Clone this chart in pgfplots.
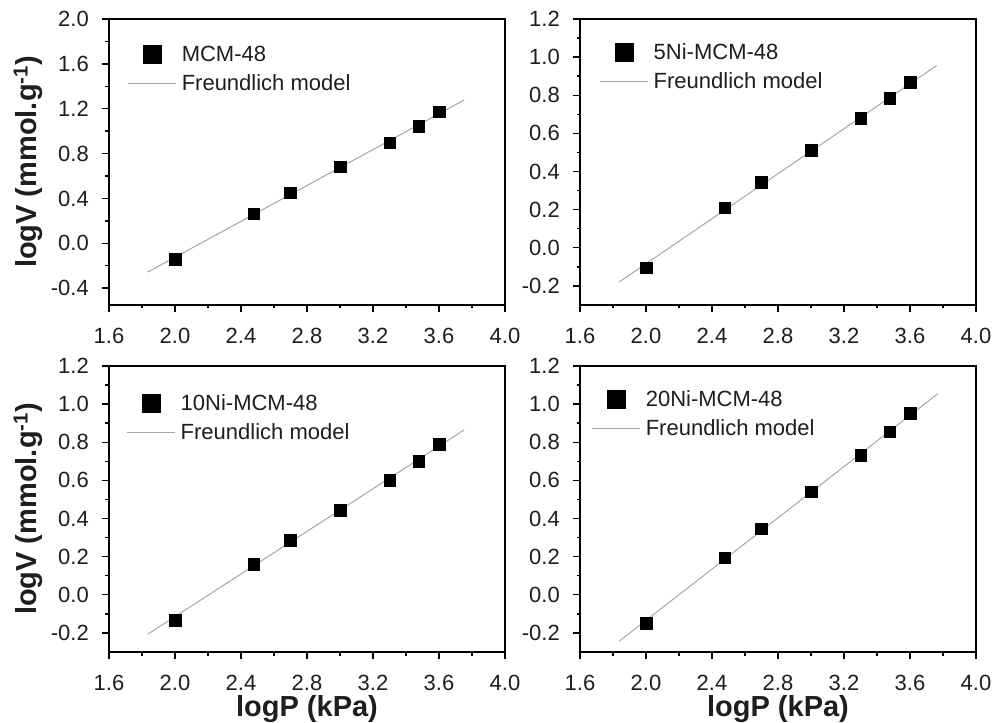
\documentclass[border=0pt]{standalone}
\usepackage{fontspec}
\setmainfont{Liberation Sans}
\usepackage{pgfplots}
\pgfplotsset{compat=1.18}
\newcommand{\ticksize}{\fontsize{22bp}{26bp}\selectfont}
\newcommand{\legsize}{\fontsize{22bp}{24bp}\selectfont}
\newcommand{\labsize}{\fontsize{29bp}{32bp}\selectfont\bfseries}
\definecolor{textgray}{HTML}{1E1E1E}
\pgfplotsset{
  panel/.style={
    scale only axis, width=396bp, height=286bp,
    axis line style={line width=2.4bp},
    xmin=1.6, xmax=4.0,
    xtick={1.6,2.0,2.4,2.8,3.2,3.6,4.0},
    xticklabels={1.6,2.0,2.4,2.8,3.2,3.6,4.0},
    minor x tick num=1, minor y tick num=1,
    tick align=outside, tick pos=left,
    major tick length=7bp, minor tick length=3.5bp,
    tick style={black, line width=1.4bp},
    tick label style={font=\ticksize, inner sep=0pt, text=textgray},
    xticklabel style={anchor=north, yshift=-16bp},
    yticklabel style={anchor=east, xshift=-13bp},
    label style={font=\labsize, inner sep=0pt, text=textgray},
    every axis y label/.append style={at={(axis description cs:-0.167,0.5)}, anchor=south},
    every axis x label/.append style={at={(axis description cs:0.5,-0.150)}, anchor=north},
    legend cell align=left,
    legend style={draw=none, fill=none, anchor=north west, font=\legsize, text=textgray,
      inner sep=0pt, nodes={inner sep=0pt}, row sep=11bp},
  },
  pts/.style={only marks, mark=square*, mark size=5.8bp, black,
    mark options={line width=0.3bp},
    legend image code/.code={\fill[black] (15bp,-9bp) rectangle (33bp,9bp); \path[draw=none,fill=none] (0bp,0bp) -- (54bp,0bp);}},
  fit/.style={gray!70, line width=1bp, no marks,
    legend image code/.code={\draw[gray!70, line width=1bp] (0bp,0bp) -- (48bp,0bp); \path[draw=none,fill=none] (0bp,0bp) -- (54bp,0bp);}},
  yfine/.style={ymin=-0.3, ymax=1.2,
    ytick={-0.2,0,0.2,0.4,0.6,0.8,1.0,1.2},
    yticklabels={-0.2,0.0,0.2,0.4,0.6,0.8,1.0,1.2}},
}
\begin{document}
\begin{tikzpicture}
\useasboundingbox (0bp,0bp) rectangle (998bp,723bp);
% Panel 1
\begin{axis}[panel, at={(109bp,418bp)}, anchor=south west,
  ymin=-0.55, ymax=2.0,
  ytick={-0.4,0,0.4,0.8,1.2,1.6,2.0},
  yticklabels={-0.4,0.0,0.4,0.8,1.2,1.6,2.0},
  ylabel={logV (mmol.g\textsuperscript{-1})},
  legend style={at={(0.0456,0.909)}}]
\addplot[pts] coordinates {(2.0,-0.143) (2.477,0.266) (2.699,0.451) (3.0,0.684) (3.301,0.899) (3.477,1.045) (3.602,1.173)};
\addlegendentry{MCM-48}
\addplot[fit] coordinates {(1.834,-0.257) (3.753,1.278)};
\addlegendentry{Freundlich model}
\end{axis}
% Panel 2
\begin{axis}[panel, yfine, at={(580bp,418bp)}, anchor=south west,
  legend style={at={(0.048,0.916)}}]
\addplot[pts] coordinates {(2.0,-0.105) (2.477,0.211) (2.699,0.344) (3.0,0.512) (3.301,0.681) (3.477,0.784) (3.602,0.868)};
\addlegendentry{5Ni-MCM-48}
\addplot[fit] coordinates {(1.838,-0.179) (3.762,0.956)};
\addlegendentry{Freundlich model}
\end{axis}
% Panel 3
\begin{axis}[panel, yfine, at={(109bp,71bp)}, anchor=south west,
  ylabel={logV (mmol.g\textsuperscript{-1})},
  xlabel={logP (kPa)},
  legend style={at={(0.043,0.902)}}]
\addplot[pts] coordinates {(2.0,-0.134) (2.477,0.162) (2.699,0.286) (3.0,0.443) (3.301,0.602) (3.477,0.702) (3.602,0.791)};
\addlegendentry{10Ni-MCM-48}
\addplot[fit] coordinates {(1.834,-0.207) (3.753,0.865)};
\addlegendentry{Freundlich model}
\end{axis}
% Panel 4
\begin{axis}[panel, yfine, at={(580bp,71bp)}, anchor=south west,
  xlabel={logP (kPa)},
  legend style={at={(0.028,0.916)}}]
\addplot[pts] coordinates {(2.0,-0.150) (2.477,0.195) (2.699,0.347) (3.0,0.542) (3.301,0.733) (3.477,0.856) (3.602,0.952)};
\addlegendentry{20Ni-MCM-48}
\addplot[fit] coordinates {(1.838,-0.243) (3.769,1.055)};
\addlegendentry{Freundlich model}
\end{axis}
\end{tikzpicture}
\end{document}
